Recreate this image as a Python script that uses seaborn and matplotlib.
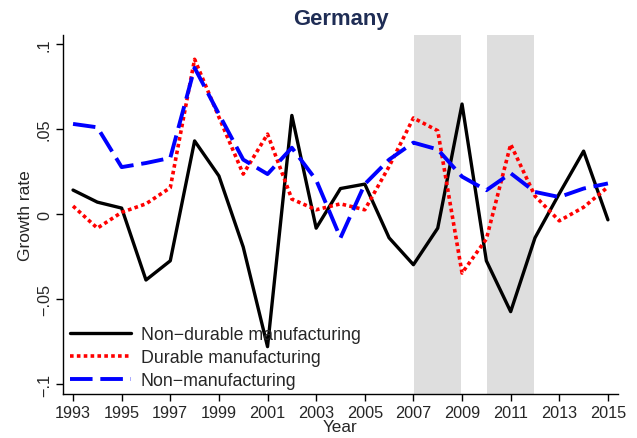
import matplotlib
matplotlib.use("Agg")
import matplotlib.pyplot as plt
import seaborn as sns
import pandas as pd

years = list(range(1993, 2016))
non_durable = [0.0141, 0.0070, 0.0035, -0.0388, -0.0275, 0.0430, 0.0224, -0.0194, -0.0780,
               0.0580, -0.0083, 0.0150, 0.0176, -0.0140, -0.0298, -0.0083, 0.0647, -0.0275,
               -0.0574, -0.0140, 0.0120, 0.0370, -0.0034]
durable = [0.0047, -0.0083, 0.0010, 0.0060, 0.0155, 0.0910, 0.0570, 0.0235, 0.0470,
           0.0088, 0.0025, 0.0060, 0.0025, 0.0280, 0.0565, 0.0490, -0.0347, -0.0147,
           0.0410, 0.0106, -0.0040, 0.0040, 0.0159]
non_manuf = [0.0530, 0.0510, 0.0276, 0.0300, 0.0330, 0.0860, 0.0588, 0.0320, 0.0235,
             0.0390, 0.0200, -0.0140, 0.0176, 0.0320, 0.0420, 0.0380, 0.0220, 0.0140,
             0.0240, 0.0130, 0.0100, 0.0150, 0.0180]
series_names = ["Non\u2212durable manufacturing", "Durable manufacturing", "Non\u2212manufacturing"]
recessions = [(2007, 2009), (2010, 2012)]
xticks = list(range(1993, 2016, 2))
yticks = [-0.1, -0.05, 0, 0.05, 0.1]
ytick_labels = ["\u2212.1", "\u2212.05", "0", ".05", ".1"]

sns.set_style("white")
plt.rcParams['font.family'] = ['Liberation Sans', 'DejaVu Sans']

df = pd.DataFrame({
    "Year": years * 3,
    "value": non_durable + durable + non_manuf,
    "series": [series_names[0]] * len(years) + [series_names[1]] * len(years) + [series_names[2]] * len(years),
})

fig = plt.figure(figsize=(6.37, 4.39), dpi=100)
ax = fig.add_axes([0.099, 0.100, 0.871, 0.818])

for a, b in recessions:
    ax.axvspan(a + 0.03, b - 0.03, color="#dedede", lw=0, zorder=0)

palette = {series_names[0]: "black", series_names[1]: "#ff0000", series_names[2]: "#0000ff"}
lws = {series_names[0]: 2.4, series_names[1]: 2.6, series_names[2]: 2.8}
for name in series_names:
    sub = df[df.series == name]
    sns.lineplot(data=sub, x="Year", y="value", ax=ax, color=palette[name],
                 lw=lws[name], label=name)
    ln = ax.get_lines()[-1]
    if name == series_names[1]:
        ln.set_dashes([1.0, 0.9])
    elif name == series_names[2]:
        ln.set_dashes([5.8, 2.0])

ax.set_xlim(1992.59, 2015.41)
ax.set_ylim(-0.1059, 0.1053)
ax.set_xticks(xticks)
ax.set_xticklabels([str(x) for x in xticks], fontsize=11.7)
ax.set_yticks(yticks)
ax.set_yticklabels(ytick_labels, fontsize=11.7, rotation=90, va="center")
ax.tick_params(axis="both", direction="out", length=5, width=1, color="black", pad=3, bottom=True, left=True)
for s in ["top", "right"]:
    ax.spines[s].set_visible(False)
for s in ["left", "bottom"]:
    ax.spines[s].set_color("black")
    ax.spines[s].set_linewidth(1)
ax.set_xlabel("Year", fontsize=12.3, labelpad=-1)
ax.set_ylabel("Growth rate", fontsize=12.5, labelpad=3)
ax.set_title("Germany", fontsize=15.8, fontweight="bold", color="#1f2d55", pad=8)

leg = ax.legend(loc="lower left", frameon=False, fontsize=12.8, handlelength=3.4,
                borderaxespad=0.2, labelspacing=0.33, handletextpad=0.55,
                bbox_to_anchor=(-0.006, -0.015))

fig.savefig("out.png", dpi=100)
